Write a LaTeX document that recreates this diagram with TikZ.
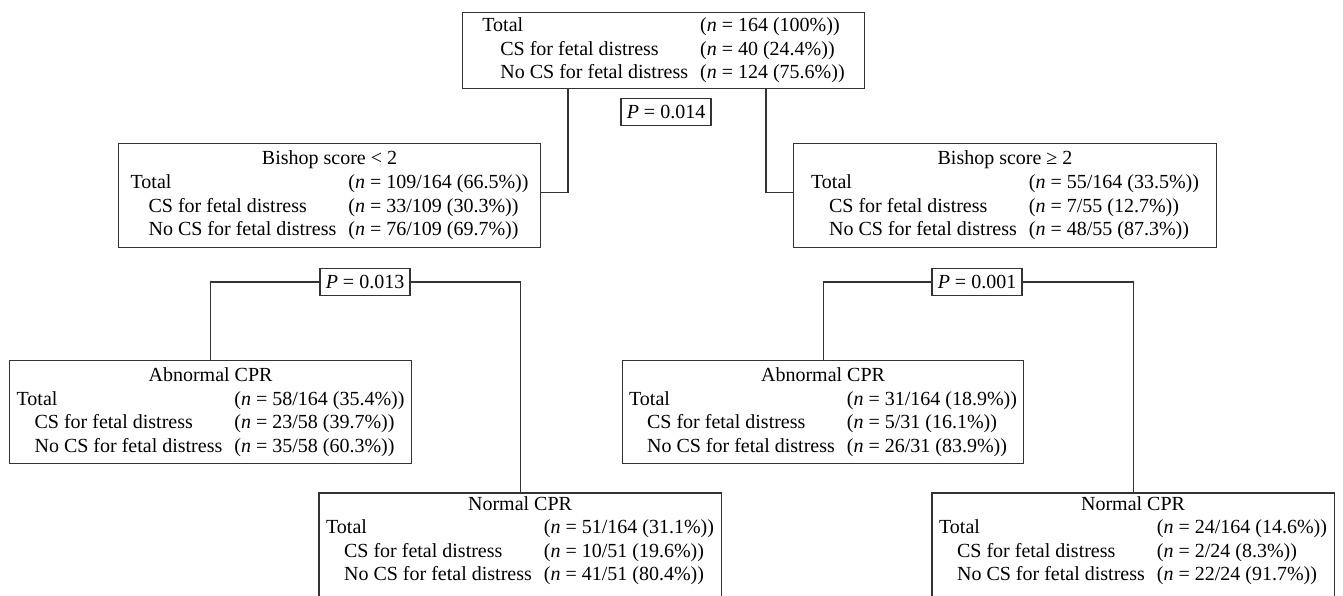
\documentclass[tikz,border=0pt]{standalone}
\usepackage{fontspec}
\setmainfont{Liberation Serif}
\newcommand{\boxtab}[4]{\begin{tabular}{@{}l@{\hspace{12pt}}l@{}}\multicolumn{2}{c}{#1}\\
Total & (\textit{n} = #2)\\
\hspace*{18pt}CS for fetal distress & (\textit{n} = #3)\\
\hspace*{18pt}No CS for fetal distress & (\textit{n} = #4)\end{tabular}}
\newcommand{\toptab}[3]{\begin{tabular}{@{}l@{\hspace{12pt}}l@{}}
Total & (\textit{n} = #1)\\
\hspace*{18pt}CS for fetal distress & (\textit{n} = #2)\\
\hspace*{18pt}No CS for fetal distress & (\textit{n} = #3)\end{tabular}}
\begin{document}
\begin{tikzpicture}[x=1pt,y=-1pt,
  font=\fontsize{20}{23.5}\selectfont,
  box/.style={draw=black!80, line width=1.1pt, inner sep=0pt, anchor=north west, minimum height=104pt},
  openbox/.style={box, draw=none, minimum height=94pt},
  pbox/.style={draw=black!80, line width=1.1pt, inner sep=0pt, minimum width=90pt, minimum height=27pt},
  conn/.style={draw=black!80, line width=1.1pt}]
\clip (0,0) rectangle (1343,596);
% nodes
\node[box, minimum width=402pt, minimum height=76pt] (top) at (462,12)
  {\toptab{164 (100\%)}{40 (24.4\%)}{124 (75.6\%)}};
\node[pbox] (p1) at (666,112) {\textit{P} = 0.014};
\node[box, minimum width=422pt] (b1) at (118,143)
  {\boxtab{Bishop score < 2}{109/164 (66.5\%)}{33/109 (30.3\%)}{76/109 (69.7\%)}};
\node[box, minimum width=423pt] (b2) at (793,143)
  {\boxtab{Bishop score ≥ 2}{55/164 (33.5\%)}{7/55 (12.7\%)}{48/55 (87.3\%)}};
\node[pbox] (p2) at (365,282) {\textit{P} = 0.013};
\node[pbox] (p3) at (977,282) {\textit{P} = 0.001};
\node[box, minimum width=402pt, minimum height=103pt] (a1) at (9,360)
  {\boxtab{Abnormal CPR}{58/164 (35.4\%)}{23/58 (39.7\%)}{35/58 (60.3\%)}};
\node[box, minimum width=401pt, minimum height=103pt] (a2) at (622,360)
  {\boxtab{Abnormal CPR}{31/164 (18.9\%)}{5/31 (16.1\%)}{26/31 (83.9\%)}};
\node[openbox, minimum width=401pt] (n1) at (319,493)
  {\boxtab{Normal CPR}{51/164 (31.1\%)}{10/51 (19.6\%)}{41/51 (80.4\%)}};
\node[openbox, minimum width=401pt] (n2) at (932,493)
  {\boxtab{Normal CPR}{24/164 (14.6\%)}{2/24 (8.3\%)}{22/24 (91.7\%)}};
% outlines of the two lower boxes, running past the bottom edge
\draw[conn] (n1.north west) rectangle ([yshift=-30pt]n1.south east);
\draw[conn] (n2.north west) rectangle ([yshift=-30pt]n2.south east);
% connectors
\coordinate (t1) at (568,0 |- top.south);
\coordinate (t2) at (766,0 |- top.south);
\draw[conn] (t1) |- ([yshift=3pt]b1.east);
\draw[conn] (t2) |- ([yshift=3pt]b2.west);
\draw[conn] (p2.west) -| (a1.north);
\draw[conn] (p2.east) -| (n1.north);
\draw[conn] (p3.west) -| (a2.north);
\draw[conn] (p3.east) -| (n2.north);
\end{tikzpicture}
\end{document}
